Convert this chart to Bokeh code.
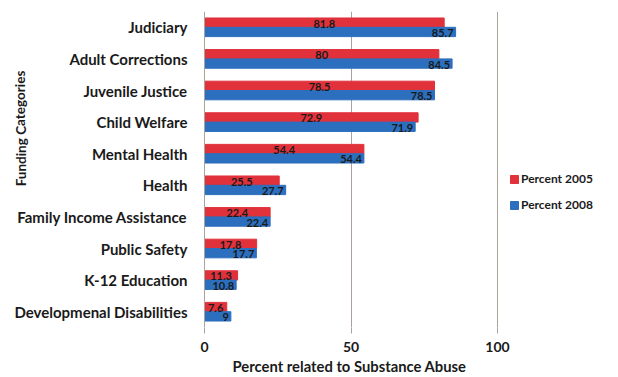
from bokeh.plotting import figure
from bokeh.models import FactorRange, FixedTicker, Legend, LegendItem, Label, Title, ColumnDataSource
from bokeh.transform import dodge
from bokeh.core.properties import value
from bokeh.embed import file_html
from bokeh.resources import INLINE

categories = ["Judiciary", "Adult Corrections", "Juvenile Justice", "Child Welfare",
              "Mental Health", "Health", "Family Income Assistance", "Public Safety",
              "K-12 Education", "Developmenal Disabilities"]
pct_2005 = [81.8, 80, 78.5, 72.9, 54.4, 25.5, 22.4, 17.8, 11.3, 7.6]
pct_2008 = [85.7, 84.5, 78.5, 71.9, 54.4, 27.7, 22.4, 17.7, 10.8, 9]
labels_2005 = ["81.8", "80", "78.5", "72.9", "54.4", "25.5", "22.4", "17.8", "11.3", "7.6"]
labels_2008 = ["85.7", "84.5", "78.5", "71.9", "54.4", "27.7", "22.4", "17.7", "10.8", "9"]
x_ticks = [0, 50, 100]
grid_ticks = [50, 100]

RED = "#E1313B"
BLUE = "#2B6FBE"
GRID = "#ABA39B"
TXT = "#1a1a1a"
FONT = "Lato"

src = ColumnDataSource(dict(
    cat=categories, v05=pct_2005, v08=pct_2008,
    mid05=[v / 2 for v in pct_2005],
    l05=labels_2005, l08=labels_2008,
))

# frame spans the full width; value axis 0 sits at pixel 204, 100 at pixel 497
px_per_unit = (497 - 204) / 100.0
x_start = -204 / px_per_unit
x_end = (618 - 204) / px_per_unit

p = figure(width=618, height=377, output_backend="svg", toolbar_location=None,
           y_range=FactorRange(factors=list(reversed(categories)), range_padding=0),
           x_range=(x_start, x_end),
           min_border_left=0, min_border_right=0, min_border_top=11, min_border_bottom=50)
p.outline_line_color = None
p.background_fill_color = "white"
p.border_fill_color = "white"

bh = 0.295
r05 = p.hbar(y=dodge("cat", 0.1475, range=p.y_range), right="v05", left=0, height=bh,
             color=RED, source=src)
r08 = p.hbar(y=dodge("cat", -0.1475, range=p.y_range), right="v08", left=0, height=bh,
             color=BLUE, source=src)

p.text(x="mid05", y=dodge("cat", 0.1475, range=p.y_range), text="l05", source=src,
       text_align="center", text_baseline="middle", y_offset=1,
       text_font=value(FONT), text_font_style="bold", text_font_size="11px", text_color=TXT)
p.text(x="v08", y=dodge("cat", -0.1475, range=p.y_range), text="l08", source=src,
       text_align="right", text_baseline="middle", x_offset=-2, y_offset=1,
       text_font=value(FONT), text_font_style="bold", text_font_size="11px", text_color=TXT)

# x axis
p.xaxis.ticker = FixedTicker(ticks=x_ticks)
p.xaxis.axis_line_color = None
p.xaxis.major_tick_line_color = GRID
p.xaxis.major_tick_out = 6
p.xaxis.major_tick_in = 0
p.xaxis.minor_tick_line_color = None
p.xaxis.major_label_standoff = 8
p.xaxis.major_label_text_font = FONT
p.xaxis.major_label_text_font_style = "bold"
p.xaxis.major_label_text_font_size = "14px"
p.xaxis.major_label_text_color = TXT

# y axis placed at value 0 inside the frame
p.yaxis.fixed_location = 0
p.yaxis.axis_line_color = GRID
p.yaxis.major_tick_line_color = None
p.yaxis.minor_tick_line_color = None
p.yaxis.major_label_standoff = 11
p.yaxis.major_label_text_font = FONT
p.yaxis.major_label_text_font_style = "bold"
p.yaxis.major_label_text_font_size = "15px"
p.yaxis.major_label_text_color = TXT

p.xgrid.ticker = FixedTicker(ticks=grid_ticks)
p.xgrid.grid_line_color = GRID
p.ygrid.grid_line_color = None

# y axis title
p.add_layout(Label(x=(20 - 204) / px_per_unit, y=(327 - 128) / 31.6, text="Funding Categories",
                   angle=1.5708, text_align="center", text_baseline="middle",
                   text_font=FONT, text_font_style="bold", text_font_size="13.5px",
                   text_color=TXT))

# x axis title
p.add_layout(Title(text="Percent related to Substance Abuse", align="left", offset=232,
                   standoff=0, vertical_align="bottom", text_line_height=1.3,
                   text_font=FONT, text_font_style="bold",
                   text_font_size="14.8px", text_color=TXT), "below")

legend = Legend(items=[LegendItem(label="Percent 2005", renderers=[r05]),
                       LegendItem(label="Percent 2008", renderers=[r08])],
                location=(509, 115), glyph_width=10, glyph_height=10, label_height=12,
                spacing=11, padding=0, margin=0, label_standoff=2,
                label_text_font=FONT, label_text_font_style="bold",
                label_text_font_size="12px", label_text_color=TXT,
                border_line_color=None, background_fill_alpha=0)
p.add_layout(legend)

open("out.html", "w").write(file_html(p, INLINE))
